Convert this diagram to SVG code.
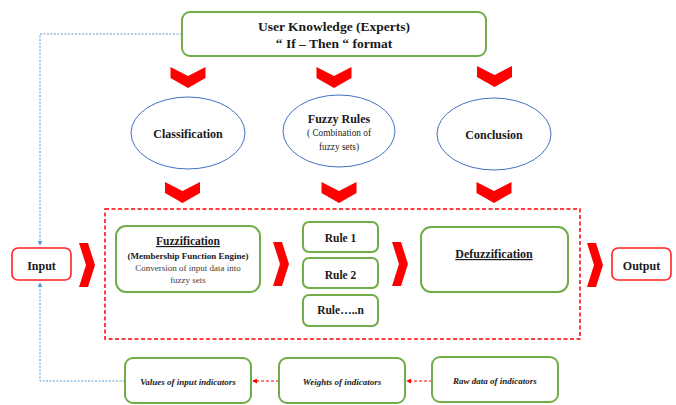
<svg xmlns="http://www.w3.org/2000/svg" width="676" height="405" viewBox="0 0 676 405">
<style>
text{font-family:"Liberation Serif","Times New Roman",serif;fill:#1a1a1a;text-anchor:middle}
.b{font-weight:bold}
.g{fill:none;stroke:#70AD47;stroke-width:2}
.r{fill:none;stroke:#FF2020;stroke-width:1.6}
.e{fill:none;stroke:#4472C4;stroke-width:1}
.chev{fill:#FF0000}
.blue{fill:none;stroke:#5B9BD5;stroke-width:1;stroke-dasharray:2 1.5}
.rd{fill:none;stroke:#FF0000;stroke-width:1;stroke-dasharray:3 2}
.bi{font-weight:bold;font-style:italic;font-size:9px}
</style>
<defs>
<marker id="ab" viewBox="0 0 6 6" refX="5" refY="3" markerWidth="5" markerHeight="5" orient="auto"><path d="M0,0L6,3L0,6z" fill="#5B9BD5"/></marker>
<marker id="ar" viewBox="0 0 6 6" refX="5" refY="3" markerWidth="5" markerHeight="5" orient="auto"><path d="M0,0L6,3L0,6z" fill="#FF0000"/></marker>
<path id="cd" d="M-17.5,0L0,9L17.5,0L17.5,11L0,21L-17.5,11z"/>
<path id="cr" d="M0,0L9,0L16,22L9,44L0,44L7,22z"/>
</defs>

<g id="connectors">
<path class="blue" d="M182,34H40V245" marker-end="url(#ab)"/>
<path class="blue" d="M125,381H40V283" marker-end="url(#ab)"/>
<path class="rd" d="M432,381H407" marker-end="url(#ar)"/>
<path class="rd" d="M279,381H253" marker-end="url(#ar)"/>
<g class="chev">
<use href="#cd" x="188" y="67"/>
<use href="#cd" x="334" y="67"/>
<use href="#cd" x="494.5" y="66"/>
<use href="#cd" x="182.5" y="182"/>
<use href="#cd" x="339" y="182"/>
<use href="#cd" x="494" y="182"/>
<use href="#cr" x="79" y="243"/>
<use href="#cr" x="273" y="242"/>
<use href="#cr" x="392" y="242"/>
<use href="#cr" x="587" y="243"/>
</g>
</g>

<g id="processing">
<rect x="105" y="209" width="475" height="130" fill="none" stroke="#FF0000" stroke-width="1.5" stroke-dasharray="4 2.5"/>
</g>

<g id="user-knowledge">
<rect class="g" x="182" y="12" width="304" height="44" rx="8"/>
<text class="b" x="334" y="31" font-size="13.5">User Knowledge  (Experts)</text>
<text class="b" x="334" y="48" font-size="13.5">“ If – Then “ format</text>
</g>

<g id="classification">
<ellipse class="e" cx="188" cy="133" rx="57" ry="36"/>
<text class="b" x="188" y="138" font-size="12">Classification</text>
</g>

<g id="fuzzy-rules">
<ellipse class="e" cx="339" cy="131" rx="56" ry="36"/>
<text class="b" x="339" y="123" font-size="12">Fuzzy Rules</text>
<text x="339" y="136" font-size="9.3">( Combination of</text>
<text x="339" y="150" font-size="9.3">fuzzy sets)</text>
</g>

<g id="conclusion">
<ellipse class="e" cx="494" cy="134" rx="57" ry="36"/>
<text class="b" x="494" y="139" font-size="12">Conclusion</text>
</g>

<g id="input">
<rect class="r" x="12" y="248" width="59" height="32" rx="6"/>
<text class="b" x="41.5" y="270" font-size="12">Input</text>
</g>

<g id="fuzzification">
<rect class="g" x="116" y="226" width="144" height="66" rx="10"/>
<text class="b" x="188" y="245" font-size="11.5" text-decoration="underline">Fuzzification</text>
<text class="b" x="188" y="259" font-size="9">(Membership Function Engine)</text>
<text x="188" y="270.5" font-size="9" style="fill:#404040">Conversion of input data into</text>
<text x="188" y="282.5" font-size="9" style="fill:#404040">fuzzy sets</text>
</g>

<g id="rule1">
<rect class="g" x="303" y="222" width="75" height="30" rx="6"/>
<text class="b" x="340.5" y="242" font-size="11.5">Rule 1</text>
</g>
<g id="rule2">
<rect class="g" x="303" y="258" width="75" height="30" rx="6"/>
<text class="b" x="340.5" y="279" font-size="11.5">Rule 2</text>
</g>
<g id="rulen">
<rect class="g" x="303" y="295" width="75" height="31" rx="6"/>
<text class="b" x="340.5" y="314" font-size="11.5">Rule…..n</text>
</g>

<g id="defuzzification">
<rect class="g" x="421" y="227" width="147" height="65" rx="10"/>
<text class="b" x="494" y="258" font-size="12" text-decoration="underline">Defuzzification</text>
</g>

<g id="output">
<rect class="r" x="612" y="248" width="59" height="32" rx="6"/>
<text class="b" x="641.5" y="270" font-size="12">Output</text>
</g>

<g id="values">
<rect class="g" x="125" y="358" width="126" height="45" rx="8"/>
<text class="bi" x="188" y="385">Values of input indicators</text>
</g>
<g id="weights">
<rect class="g" x="279" y="358" width="126" height="45" rx="8"/>
<text class="bi" x="342" y="385">Weights of  indicators</text>
</g>
<g id="raw">
<rect class="g" x="432" y="357" width="126" height="45" rx="8"/>
<text class="bi" x="495" y="384">Raw data of  indicators</text>
</g>
</svg>
